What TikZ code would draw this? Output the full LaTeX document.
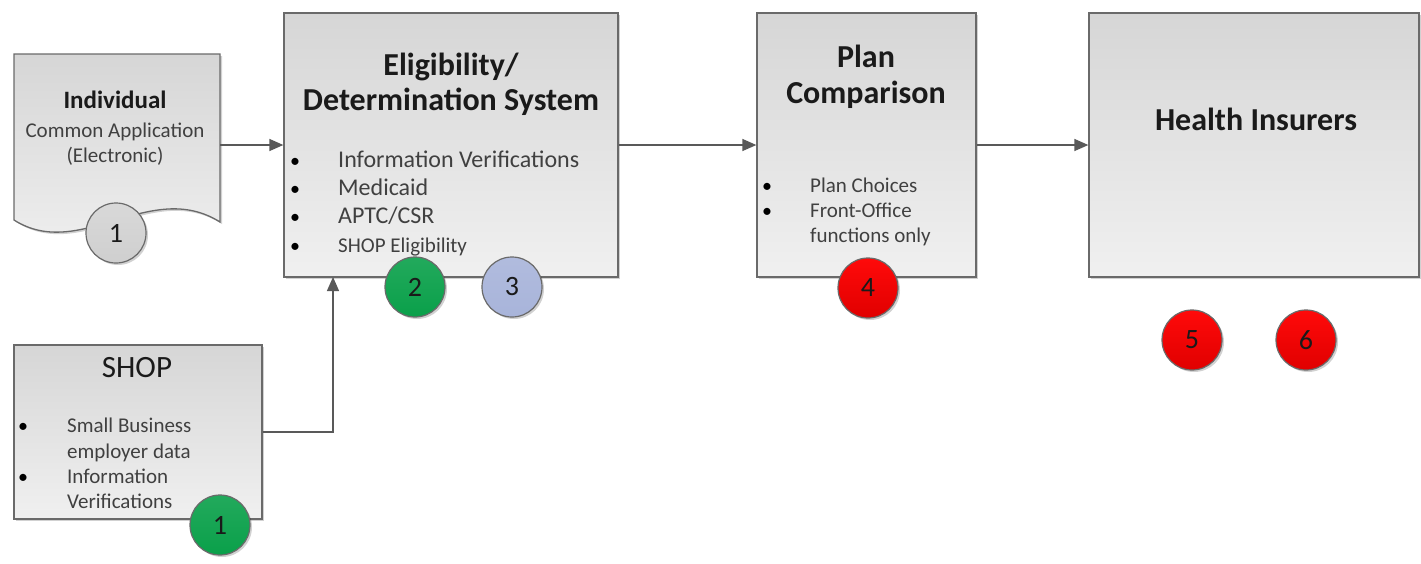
\documentclass[tikz,border=0pt]{standalone}
\usepackage{fontspec}
\setmainfont{Carlito}
\usetikzlibrary{arrows.meta,shadows}
\definecolor{boxtop}{HTML}{D6D6D6}
\definecolor{boxbot}{HTML}{F0F0F0}
\definecolor{bordc}{HTML}{6A6A6A}
\definecolor{linec}{HTML}{595959}
\definecolor{titlec}{HTML}{1A1A1A}
\definecolor{itemc}{HTML}{404040}
\definecolor{cgray}{HTML}{CFCFCF}
\definecolor{cgreen}{HTML}{0AA04A}
\definecolor{cblue}{HTML}{A8B4DA}
\definecolor{credtop}{HTML}{FF0A0A}
\definecolor{credbot}{HTML}{E00000}
\begin{document}
\begin{tikzpicture}[x=1pt,y=-1pt,
  boxsh/.style={drop shadow={shadow xshift=2pt,shadow yshift=-2pt,fill=black,opacity=0.18}},
  procbox/.style={rectangle,draw=bordc,line width=1.3pt,top color=boxtop,bottom color=boxbot,inner sep=0pt,boxsh},
  arr/.style={draw=linec,line width=1.4pt,-{Triangle[length=14pt,width=12pt]}},
  ttl/.style={font=\fontsize{32}{38}\selectfont\bfseries,text=titlec,inner sep=0pt,anchor=base},
  ttlreg/.style={font=\fontsize{31}{37}\selectfont,text=titlec,inner sep=0pt,anchor=base},
  ittl/.style={font=\fontsize{25}{30}\selectfont\bfseries,text=titlec,inner sep=0pt,anchor=base},
  isub/.style={font=\fontsize{21}{25}\selectfont,text=itemc,inner sep=0pt,anchor=base},
  itembig/.style={font=\fontsize{24}{28}\selectfont,text=itemc,inner sep=0pt,anchor=base west},
  itemsm/.style={font=\fontsize{21}{25}\selectfont,text=itemc,inner sep=0pt,anchor=base west},
  bul/.style={font=\fontsize{20}{24}\selectfont,text=black,inner sep=0pt,anchor=base},
  numc/.style={circle,draw=bordc,line width=1.2pt,minimum size=60pt,inner sep=0pt,
    font=\fontsize{28}{32}\selectfont,text=titlec,
    drop shadow={shadow xshift=2pt,shadow yshift=-2pt,fill=black,opacity=0.18}}
]
\useasboundingbox (0,0) rectangle (1421,563);

% --- boxes ---
\path[procbox] (14,54) -- (220,54) -- (220,222) .. controls (150,178) and (80,262) .. (14,220) -- cycle;
\node[inner sep=0pt,minimum width=206pt,minimum height=166pt] (indiv) at (117,137) {};

\node[procbox,minimum width=334pt,minimum height=264pt] (elig) at (451,145) {};
\node[procbox,minimum width=219pt,minimum height=264pt] (plan) at (866.5,145) {};
\node[procbox,minimum width=330pt,minimum height=264pt] (health) at (1254,145) {};
\node[procbox,minimum width=248pt,minimum height=174pt] (shop) at (138,432) {};

% --- connectors ---
\coordinate (eligin) at (333,277);
\draw[arr] (indiv.east |- elig.west) -- (elig.west);
\draw[arr] (elig.east) -- (plan.west);
\draw[arr] (plan.east) -- (health.west);
\draw[arr] (shop.east) -| (eligin);

% --- Individual text ---
\node[ittl] (indT) at (115,108) {Individual};
\node[isub] (indA) at (115,137) {Common Application};
\node[isub] (indB) at (115,162) {(Electronic)};

% --- Eligibility text ---
\node[ttl] (eligT1) at (451,75) {Eligibility/};
\node[ttl] (eligT2) at (451,110) {Determination System};
\node[bul] (eb1) at (295,167) {•};
\node[bul] (eb2) at (295,195) {•};
\node[bul] (eb3) at (295,223) {•};
\node[bul] (eb4) at (295,252) {•};
\node[itembig] (ei1) at (338,167) {Information Verifications};
\node[itembig] (ei2) at (338,195) {Medicaid};
\node[itembig] (ei3) at (338,223) {APTC/CSR};
\node[itemsm] (ei4) at (338,252) {SHOP Eligibility};

% --- Plan text ---
\node[ttl] (planT1) at (866,67) {Plan};
\node[ttl] (planT2) at (866,103) {Comparison};
\node[bul] (pb1) at (767,192) {•};
\node[bul] (pb2) at (767,217) {•};
\node[itemsm] (pi1) at (810,192) {Plan Choices};
\node[itemsm] (pi2) at (810,217) {Front-Office};
\node[itemsm] (pi3) at (810,242) {functions only};

% --- Health text ---
\node[ttl] (healthT) at (1256,130) {Health Insurers};

% --- SHOP text ---
\node[ttlreg] (shopT) at (137,377) {SHOP};
\node[bul] (sb1) at (23,432) {•};
\node[bul] (sb2) at (23,483) {•};
\node[itemsm] (si1) at (67,432) {Small Business};
\node[itemsm] (si2) at (67,458) {employer data};
\node[itemsm] (si3) at (67,483) {Information};
\node[itemsm] (si4) at (67,508) {Verifications};

% --- numbered circles ---
\node[numc,top color=cgray!80,bottom color=cgray] (c1a) at (116,233) {1};
\node[numc,top color=cgreen!90!white,bottom color=cgreen] (c2) at (415,287) {2};
\node[numc,top color=cblue!90!white,bottom color=cblue] (c3) at (512,287) {3};
\node[numc,top color=credtop,bottom color=credbot] (c4) at (868,288) {4};
\node[numc,top color=credtop,bottom color=credbot] (c5) at (1192,340) {5};
\node[numc,top color=credtop,bottom color=credbot] (c6) at (1306,340) {6};
\node[numc,top color=cgreen!90!white,bottom color=cgreen] (c1b) at (220,525) {1};
\end{tikzpicture}
\end{document}
